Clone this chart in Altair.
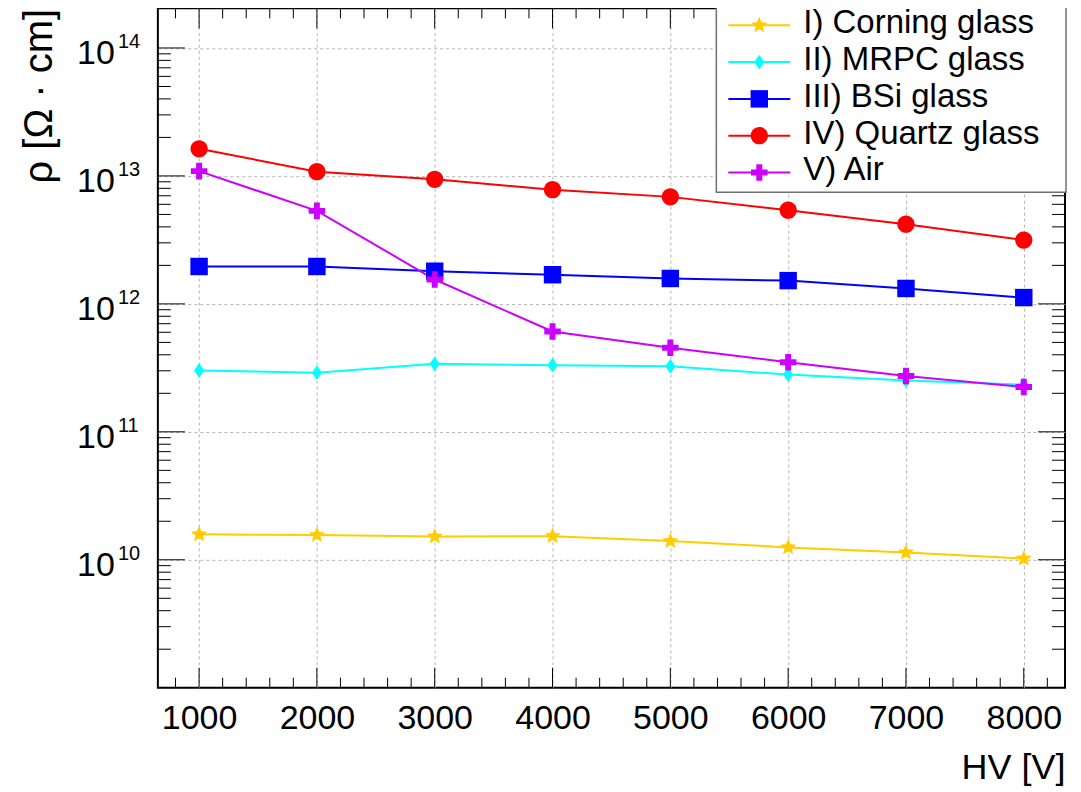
import math
import altair as alt
import pandas as pd

# ---------------- data ----------------
hv = [1000, 2000, 3000, 4000, 5000, 6000, 7000, 8000]
series_names = ["I) Corning glass", "II) MRPC glass", "III) BSi glass", "IV) Quartz glass", "V) Air"]
rho_corning = [1.58e10, 1.56e10, 1.52e10, 1.53e10, 1.40e10, 1.25e10, 1.14e10, 1.02e10]
rho_mrpc = [3.02e11, 2.90e11, 3.40e11, 3.32e11, 3.25e11, 2.80e11, 2.52e11, 2.34e11]
rho_bsi = [1.96e12, 1.96e12, 1.80e12, 1.69e12, 1.58e12, 1.52e12, 1.32e12, 1.12e12]
rho_quartz = [1.63e13, 1.08e13, 9.4e12, 7.8e12, 6.86e12, 5.4e12, 4.2e12, 3.15e12]
rho_air = [1.09e13, 5.33e12, 1.55e12, 6.08e11, 4.54e11, 3.50e11, 2.73e11, 2.24e11]
series_colors = ["#FFCC00", "#00FFFF", "#0000FF", "#FF0000", "#CC00FF"]

x_major = [1000, 2000, 3000, 4000, 5000, 6000, 7000, 8000]
x_minor = [v for v in range(800, 8201, 200) if v % 1000 != 0]
y_major = [1e10, 1e11, 1e12, 1e13, 1e14]
y_exponents = ["10", "11", "12", "13", "14"]
y_minor = [k * 10.0 ** e for e in range(9, 15) for k in range(2, 10) if k * 10.0 ** e < 2.0e14]

all_values = [rho_corning, rho_mrpc, rho_bsi, rho_quartz, rho_air]
rows = []
for name, vals in zip(series_names, all_values):
    for x, v in zip(hv, vals):
        rows.append({"series": name, "hv": x, "rho": v})
df = pd.DataFrame(rows)
legend_df = pd.DataFrame({"series": series_names, "idx": list(range(len(series_names)))})

# ---------------- marker shapes ----------------
def poly(pts, k=1.0):
    return "M" + "L".join(f"{x * k:.4f},{y * k:.4f}" for x, y in pts) + "Z"

def circle(r):
    return f"M{r:.4f},0A{r:.4f},{r:.4f} 0 1,1 {-r:.4f},0A{r:.4f},{r:.4f} 0 1,1 {r:.4f},0Z"

star_pts = []
for i in range(10):
    ang = math.radians(-90 + 36 * i)
    rad = 0.95 if i % 2 == 0 else 0.42
    star_pts.append((rad * math.cos(ang), rad * math.sin(ang)))
diamond_pts = [(0, -0.82), (0.56, 0), (0, 0.82), (-0.56, 0)]
square_pts = [(-0.97, -0.97), (0.97, -0.97), (0.97, 0.97), (-0.97, 0.97)]
a, w = 0.92, 0.33
cross_pts = [(-w, -a), (w, -a), (w, -w), (a, -w), (a, w), (w, w), (w, a), (-w, a),
             (-w, w), (-a, w), (-a, -w), (-w, -w)]
marker_paths = [poly(star_pts), poly(diamond_pts), poly(square_pts), circle(0.96), poly(cross_pts)]

# ---------------- scales / axes ----------------
FONT = "Liberation Sans"
W, H = 908, 680
xs = alt.Scale(domain=[650, 8350], nice=False, zero=False)
ys = alt.Scale(type="log", domain=[1e9, 2.04e14], nice=False)
cs = alt.Scale(domain=series_names, range=series_colors)
ss = alt.Scale(domain=series_names, range=marker_paths)

x_axis = alt.Axis(
    values=x_major, format="d", grid=True, gridDash=[3, 3], gridColor="#b4b4b4", gridWidth=1,
    ticks=False, tickSize=0, domain=False, labelFont=FONT, labelFontSize=34,
    labelColor="black", labelBaseline="alphabetic", labelPadding=41, labelFlush=False,
    labelOverlap=False, title="HV [V]", titleFont=FONT, titleFontSize=36,
    titleFontWeight="normal", titleColor="black", titleAlign="right",
    titleBaseline="alphabetic", titleX=W, titleY=91)
y_axis = alt.Axis(
    values=y_major, grid=True, gridDash=[3, 3], gridColor="#b4b4b4", gridWidth=1,
    ticks=False, tickSize=0, domain=False, labels=False,
    title="ρ [Ω · cm]", titleFont=FONT, titleFontSize=40, titleFontWeight="normal",
    titleColor="black", titleAngle=270, titleAlign="right", titleBaseline="alphabetic",
    titleX=-106, titleY=0)

# ---------------- data layers ----------------
lines = alt.Chart(df).mark_line(strokeWidth=2).encode(
    x=alt.X("hv:Q", scale=xs, axis=x_axis),
    y=alt.Y("rho:Q", scale=ys, axis=y_axis),
    color=alt.Color("series:N", scale=cs, legend=None),
)

points = alt.Chart(df).mark_point(filled=True, opacity=1, size=324, strokeWidth=0).encode(
    x=alt.X("hv:Q", scale=xs, axis=x_axis),
    y=alt.Y("rho:Q", scale=ys, axis=y_axis),
    color=alt.Color("series:N", scale=cs, legend=None),
    shape=alt.Shape("series:N", scale=ss, legend=None),
)

# ---------------- tick marks (ROOT style, inward, all four sides) ----------------
xmaj = pd.DataFrame({"v": x_major})
xmin = pd.DataFrame({"v": x_minor})
ymaj = pd.DataFrame({"v": y_major, "e": y_exponents})
ymin = pd.DataFrame({"v": y_minor})

def xrule(d, y1, y2):
    return alt.Chart(d).mark_rule(color="black", strokeWidth=1).encode(
        x=alt.X("v:Q", scale=xs, axis=x_axis), y=alt.value(y1), y2=alt.value(y2))

def yrule(d, x1, x2):
    return alt.Chart(d).mark_rule(color="black", strokeWidth=1).encode(
        y=alt.Y("v:Q", scale=ys, axis=y_axis), x=alt.value(x1), x2=alt.value(x2))

ticks = [
    xrule(xmaj, H, H - 20), xrule(xmaj, 0, 20),
    xrule(xmin, H, H - 10), xrule(xmin, 0, 10),
    yrule(ymaj, 0, 27), yrule(ymaj, W, W - 27),
    yrule(ymin, 0, 13), yrule(ymin, W, W - 13),
]

# y tick labels 10^n with a real superscript
ylab_base = alt.Chart(ymaj).mark_text(
    text="10", font=FONT, fontSize=34, color="black", align="right",
    baseline="alphabetic", dy=16).encode(
    y=alt.Y("v:Q", scale=ys, axis=y_axis), x=alt.value(-43))
ylab_exp = alt.Chart(ymaj).mark_text(
    font=FONT, fontSize=20, color="black", align="left", baseline="alphabetic", dy=0).encode(
    y=alt.Y("v:Q", scale=ys, axis=y_axis), x=alt.value(-40), text="e:N")

# ---------------- legend (ROOT TLegend style) ----------------
legend_box = alt.Chart(alt.Data(values=[{"box": 1}])).mark_rect(
    fill="white", stroke="#707070", strokeWidth=1.5).encode(
    x=alt.value(559), x2=alt.value(909), y=alt.value(-1), y2=alt.value(184))

leg_base = alt.Chart(legend_df).transform_calculate(ly="17 + 36.8 * datum.idx")
leg_line = leg_base.mark_rule(strokeWidth=2).encode(
    x=alt.value(571), x2=alt.value(633),
    y=alt.Y("ly:Q", scale=None),
    color=alt.Color("series:N", scale=cs, legend=None))
leg_mark = leg_base.mark_point(filled=True, opacity=1, size=324, strokeWidth=0).encode(
    x=alt.value(602),
    y=alt.Y("ly:Q", scale=None),
    color=alt.Color("series:N", scale=cs, legend=None),
    shape=alt.Shape("series:N", scale=ss, legend=None))
leg_text = leg_base.mark_text(
    font=FONT, fontSize=33, color="black", align="left", baseline="alphabetic", dy=8).encode(
    x=alt.value(646),
    y=alt.Y("ly:Q", scale=None),
    text="series:N")

chart = alt.layer(
    lines, *ticks, points, legend_box, leg_line, leg_mark, leg_text, ylab_base, ylab_exp
).properties(
    width=W, height=H,
    autosize=alt.AutoSizeParams(type="none"),
    padding={"left": 150, "top": 0, "right": 8, "bottom": 98},
    background="white",
).configure_view(stroke="black", strokeWidth=2)

chart.save("out.html", embed_options={"renderer": "svg", "actions": False})
